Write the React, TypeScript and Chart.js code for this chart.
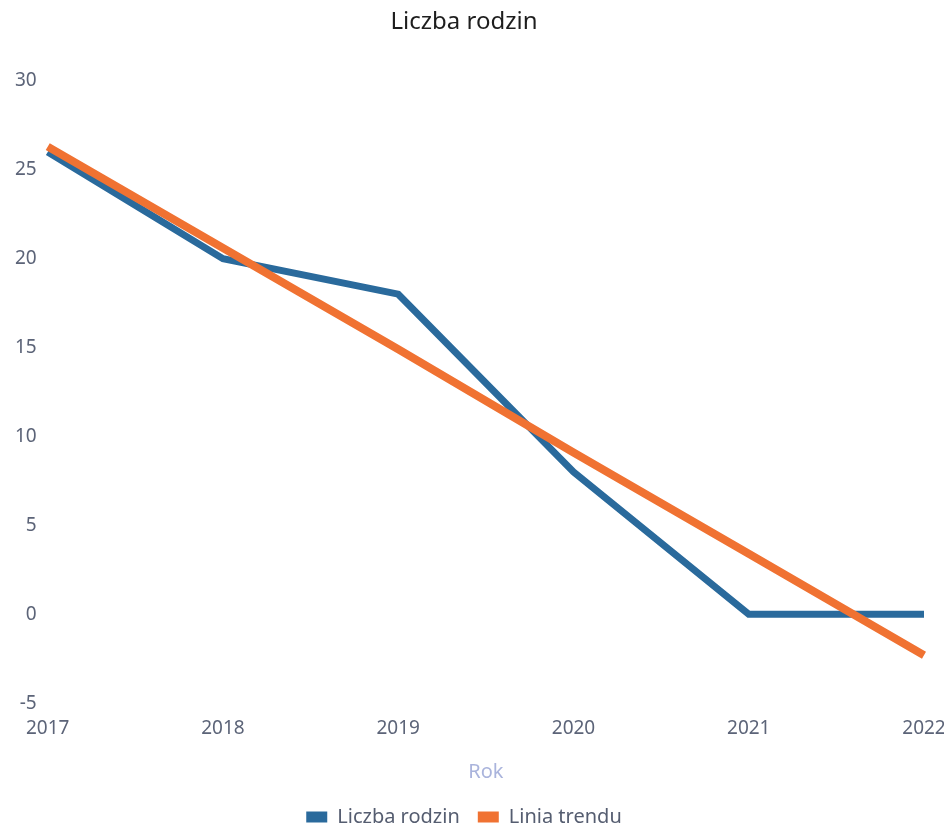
import React, { useEffect, useRef } from "react";
import { Chart, registerables } from "chart.js";

Chart.register(...registerables);

const years = ["2017", "2018", "2019", "2020", "2021", "2022"];
const families = [26, 20, 18, 8, 0, 0];
const trend = [26.3, 20.6, 14.9, 9.1, 3.4, -2.3];
const yTicks = [-5, 0, 5, 10, 15, 20, 25, 30];

const FONT = "'Noto Sans', 'Open Sans', sans-serif";

export default function App() {
  const ref = useRef<HTMLCanvasElement | null>(null);

  useEffect(() => {
    document.body.style.margin = "0";
    const ctx = ref.current;
    if (!ctx) return;
    const chart = new Chart(ctx, {
      type: "line",
      data: {
        labels: years,
        datasets: [
          {
            label: "Liczba rodzin",
            data: families,
            borderColor: "#2a6a9c",
            backgroundColor: "#2a6a9c",
            borderWidth: 7,
            pointRadius: 0,
            tension: 0,
            order: 2,
          },
          {
            label: "Linia trendu",
            data: trend,
            borderColor: "#f07232",
            backgroundColor: "#f07232",
            borderWidth: 8,
            pointRadius: 0,
            tension: 0,
            order: 1,
          },
        ],
      },
      options: {
        animation: false,
        responsive: false,
        layout: { padding: { top: 6, right: 20, left: 4, bottom: -6 } },
        plugins: {
          title: {
            display: true,
            text: "Liczba rodzin",
            color: "#1e1e1e",
            font: { family: FONT, size: 24, weight: "normal" },
            padding: { top: 2, bottom: 44 },
          },
          legend: {
            position: "bottom",
            labels: {
              color: "#555d70",
              font: { family: FONT, size: 20 },
              boxWidth: 21,
              boxHeight: 11,
              padding: 18,
              sort: (a: any, b: any) => a.datasetIndex - b.datasetIndex,
              generateLabels: (c: any) =>
                Chart.defaults.plugins.legend.labels
                  .generateLabels(c)
                  .map((it: any) => ({ ...it, lineWidth: 0 })),
            },
          },
          tooltip: { enabled: false },
        },
        scales: {
          x: {
            offset: false,
            afterFit: (s: any) => {
              s.paddingRight = 8;
            },
            grid: { display: false, drawTicks: false },
            border: { display: false },
            ticks: {
              color: "#5c6478",
              font: { family: FONT, size: 19 },
              padding: 14,
              maxRotation: 0,
            },
            title: {
              display: true,
              text: "Rok",
              color: "#aab4dc",
              font: { family: FONT, size: 20 },
              padding: { top: 6, bottom: 5 },
            },
          },
          y: {
            min: -5,
            max: 30,
            afterBuildTicks: (axis: any) => {
              axis.ticks = yTicks.map((v) => ({ value: v }));
            },
            grid: { display: false, drawTicks: false },
            border: { display: false },
            ticks: {
              color: "#5c6478",
              font: { family: FONT, size: 19 },
              padding: 11,
            },
          },
        },
      },
    });
    return () => chart.destroy();
  }, []);

  return <canvas ref={ref} width={944} height={831} style={{ display: "block" }} />;
}
